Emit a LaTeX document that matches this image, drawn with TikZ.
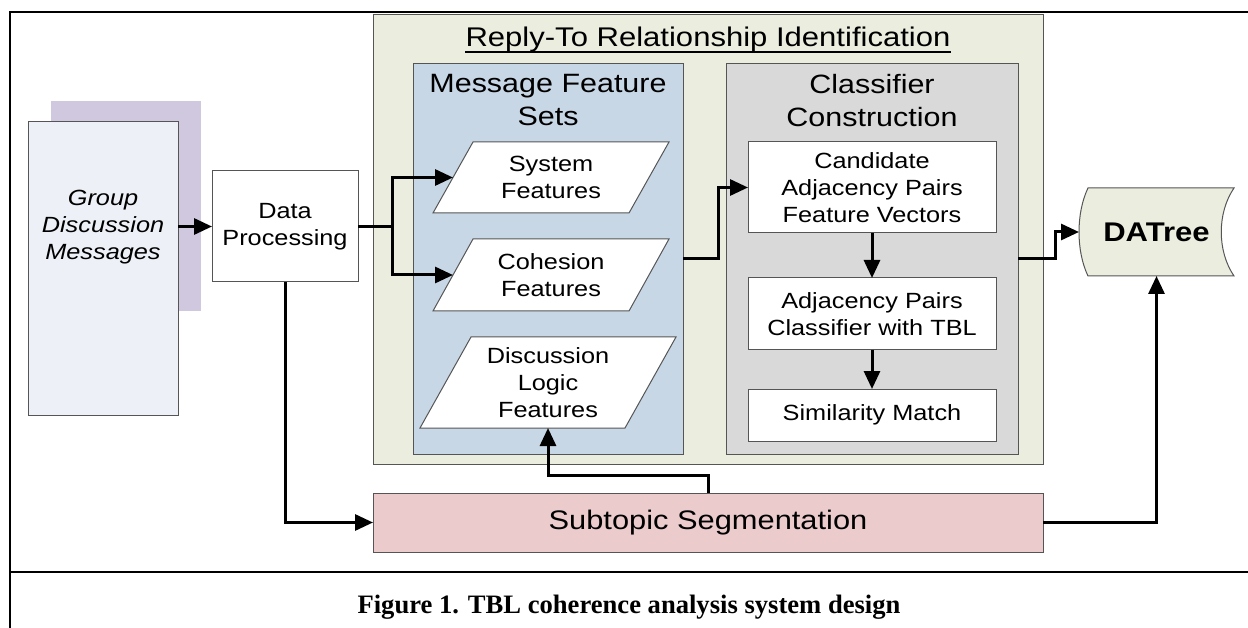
\documentclass[tikz,border=0pt]{standalone}
\usepackage{fontspec}
\newfontfamily\dfont[FakeStretch=1.15]{Liberation Sans}
\newfontfamily\capfont{Liberation Serif}
\usetikzlibrary{arrows.meta,calc}
\pgfdeclarelayer{back}
\pgfdeclarelayer{mid}
\pgfsetlayers{back,mid,main}

\definecolor{rtrGreen}{HTML}{EBEEDF}
\definecolor{featBlue}{HTML}{C8D7E6}
\definecolor{clsGray}{HTML}{D9D9D9}
\definecolor{segPink}{HTML}{EBCBCB}
\definecolor{docFront}{HTML}{EDF0F6}
\definecolor{docBack}{HTML}{D0C8DE}
\definecolor{edge}{HTML}{555555}

\newcommand\bodyfont{\dfont\fontsize{22}{27}\selectfont}
\newcommand\headfont{\dfont\fontsize{26.5}{33}\selectfont}

\tikzset{
  box/.style={draw=edge, line width=1pt, inner sep=0pt, outer sep=0pt,
              align=center, font=\bodyfont},
  pbox/.style={inner sep=0pt, outer sep=0pt, align=center, font=\bodyfont},
  pline/.style={draw=edge, line width=1pt, fill=white},
  conn/.style={line width=3pt, black},
  arr/.style={conn, -{Triangle[length=18pt,width=16pt]}},
  framing/.style={line width=2.5pt, black}
}

\begin{document}
\begin{tikzpicture}[x=1pt,y=-1pt]
\useasboundingbox (0,0) rectangle (1248,628);

% containers and the message document
\begin{pgfonlayer}{back}
  \fill[docBack] (51,101) rectangle (201,311);
  \node[box, fill=docFront, minimum width=150pt, minimum height=293pt] (gdm) at (103,268.5) {};
  \node[box, fill=rtrGreen, minimum width=670pt, minimum height=449pt] (rtr) at (708,239.5) {};
  \node[box, fill=featBlue, minimum width=270pt, minimum height=390pt] (mfs) at (548,259) {};
  \node[box, fill=clsGray, minimum width=292pt, minimum height=390pt] (cc) at (872,259) {};
\end{pgfonlayer}

% headings
\node[font=\dfont\fontsize{27}{32}\selectfont, anchor=base, inner sep=0pt] (title) at (708,47)
  {Reply-To Relationship Identification};
\draw[line width=1.4pt] ([yshift=-5pt]title.base west) -- ([yshift=-5pt]title.base east);
\node[font=\headfont, align=center] (mfsh) at (548,100) {Message Feature\\Sets};
\node[font=\headfont, align=center] (cch) at (872,101) {Classifier\\Construction};

% text of the message document
\node[font=\bodyfont\itshape, align=center] (gdmtxt) at (103,227) {Group\\Discussion\\Messages};

% processing boxes
\node[box, fill=white, minimum width=146pt, minimum height=111pt] (dp) at (285,226.5) {Data\\Processing};
\node[box, fill=white, minimum width=248pt, minimum height=91pt] (cand) at (872,187.5)
  {Candidate\\Adjacency Pairs\\Feature Vectors};
\node[box, fill=white, minimum width=248pt, minimum height=72pt] (adj) at (872,314)
  {Adjacency Pairs\\Classifier with TBL};
\node[box, fill=white, minimum width=248pt, minimum height=52pt] (sim) at (872,415) {Similarity Match};
\node[box, fill=segPink, minimum width=670pt, minimum height=59pt,
      font=\dfont\fontsize{26.8}{31}\selectfont] (sub) at (708,522.5) {Subtopic Segmentation};

% feature sets (parallelograms)
\node[pbox, minimum width=236pt, minimum height=71pt] (sys) at (551,177.5) {System\\Features};
\node[pbox, minimum width=236pt, minimum height=72pt] (coh) at (551,275) {Cohesion\\Features};
\node[pbox, minimum width=256pt, minimum height=91pt] (dlf) at (548,382.5) {Discussion\\Logic\\Features};

% stored data output
\node[inner sep=0pt, outer sep=0pt, minimum width=155pt, minimum height=88pt,
      font=\dfont\bfseries\fontsize{27}{32}\selectfont] (dat) at (1156.5,232) {DATree};

\begin{pgfonlayer}{mid}
  \draw[pline] ([xshift=40pt]sys.north west) -- (sys.north east)
     -- ([xshift=-40pt]sys.south east) -- (sys.south west) -- cycle;
  \draw[pline] ([xshift=40pt]coh.north west) -- (coh.north east)
     -- ([xshift=-40pt]coh.south east) -- (coh.south west) -- cycle;
  \draw[pline] ([xshift=51pt]dlf.north west) -- (dlf.north east)
     -- ([xshift=-51pt]dlf.south east) -- (dlf.south west) -- cycle;
  \draw[draw=edge, line width=1pt, fill=rtrGreen]
     (1088,188) -- (1234,188) .. controls (1217,213) and (1217,251) .. (1234,276)
     -- (1088,276) .. controls (1076,251) and (1076,213) .. (1088,188) -- cycle;
\end{pgfonlayer}

% connectors
\draw[arr] (gdm.east |- dp.west) -- (dp.west);
\coordinate (split) at ($(dp.east)+(34,0)$);
\draw[conn] (dp.east) -- (split);
\draw[arr] (split) |- ([xshift=20pt]sys.west);
\draw[arr] (split) |- ([xshift=20pt]coh.west);
\draw[arr] (mfs.east) -- ++(35,0) |- (cand.west);
\draw[arr] (cc.east) -- ++(37,0) |- (dat.west);
\draw[arr] (cand.south) -- (adj.north);
\draw[arr] (adj.south) -- (sim.north);
\draw[arr] (dp.south) |- (sub.west);
\draw[arr] (sub.north) -- ++(0,-18) -| (dlf.south);
\draw[arr] (sub.east) -| (dat.south);

% figure frame and caption
\draw[framing] (1248,12) -- (10,12) -- (10,628);
\draw[framing] (10,572) -- (1248,572);
\node[font=\capfont\bfseries\fontsize{26.6}{30}\selectfont, anchor=base, inner sep=0pt] (cap) at (629,613.3)
  {Figure 1. TBL coherence analysis system design};
\end{tikzpicture}
\end{document}
